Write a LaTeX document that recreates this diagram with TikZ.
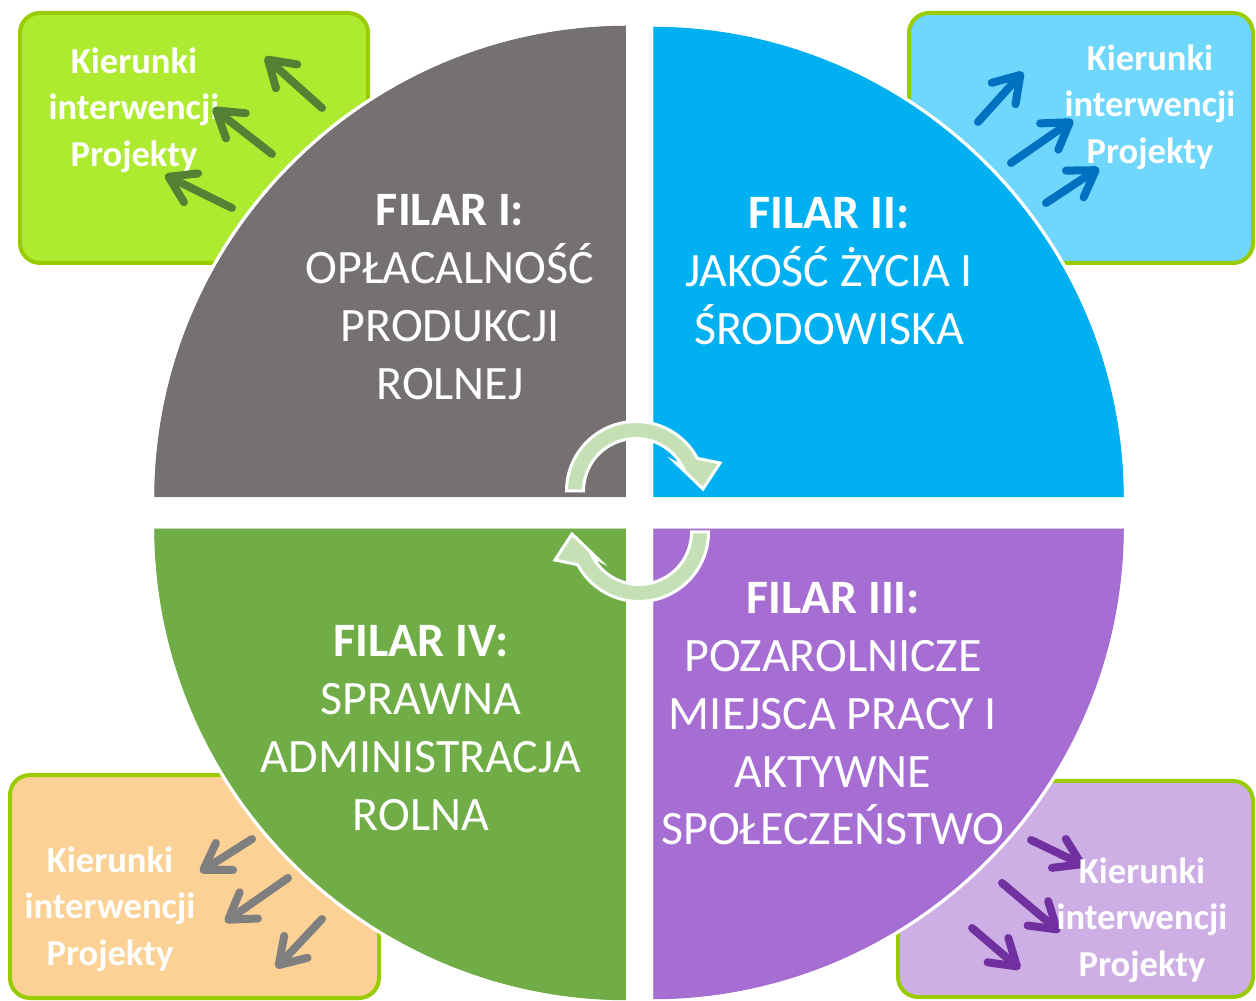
\documentclass[tikz,border=0pt]{standalone}
\usepackage{fontspec}
\setmainfont{Carlito}
\usetikzlibrary{arrows.meta}
\definecolor{qgray}{HTML}{767171}
\definecolor{qblue}{HTML}{00B0F0}
\definecolor{qgreen}{HTML}{70AD47}
\definecolor{qpurple}{HTML}{A66ED2}
\definecolor{cycfill}{HTML}{C5E0B4}
\definecolor{boxline}{HTML}{99CC00}
\definecolor{fillTL}{HTML}{AEEA30}
\definecolor{fillTR}{HTML}{6FD6FC}
\definecolor{fillBL}{HTML}{FCD195}
\definecolor{fillBR}{HTML}{CDAFE6}
\definecolor{arTL}{HTML}{548235}
\definecolor{arTR}{HTML}{0070C0}
\definecolor{arBL}{HTML}{7F7F7F}
\definecolor{arBR}{HTML}{7030A0}
\begin{document}
\begin{tikzpicture}[x=0.02cm,y=0.02cm,
  box/.style={draw=boxline, line width=0.08cm, rounded corners=0.4cm},
  quad/.style={draw=white, line width=0.06cm},
  ptr/.style={line width=0.16cm, line cap=round, line join=round, -{Straight Barb[length=0.5cm, width=0.64cm, round]}},
  boxtext/.style={text=white, font=\fontsize{20.8}{26.4}\selectfont\bfseries, align=center, inner sep=0pt},
  maintext/.style={text=white, font=\fontsize{27.3}{32.9}\selectfont, align=center, inner sep=0pt},
  cycarrow/.style={fill=cycfill, draw=white, line width=0.06cm, line join=miter}
]
\useasboundingbox (0,0) rectangle (1256,1000);

% side boxes
\draw[box, fill=fillTL] (20,737) rectangle (368,987);
\draw[box, fill=fillTR] (909,737) rectangle (1253,987);
\draw[box, fill=fillBL] (10,2) rectangle (379,225);
\draw[box, fill=fillBR] (898,3) rectangle (1253,219);

% box texts
\node[boxtext] (k1) at (134,890) {Kierunki\\interwencji\\Projekty};
% arrows TL (over text)
\draw[ptr, arTL] (322,892) -- (265,943);
\draw[ptr, arTL] (272,846) -- (213,892);
\draw[ptr, arTL] (232,792) -- (165,825);

% arrows TR
\draw[ptr, arTR] (978,878) -- (1023,928);
\draw[ptr, arTR] (1011,837) -- (1073,880);
\draw[ptr, arTR] (1046,797) -- (1099,832);
\node[boxtext] (k2) at (1150,893) {Kierunki\\interwencji\\Projekty};

% arrows BL
\draw[ptr, arBL] (252,161) -- (200,128);
\draw[ptr, arBL] (288,122) -- (225,78);
\draw[ptr, arBL] (322,81) -- (276,32);
\node[boxtext] (k3) at (110,91) {Kierunki\\interwencji\\Projekty};

% arrows BR
\draw[ptr, arBR] (1031,160) -- (1085,134);
\draw[ptr, arBR] (1002,117) -- (1060,68);
\draw[ptr, arBR] (972,72) -- (1020,31);
\node[boxtext] (k4) at (1142,80) {Kierunki\\interwencji\\Projekty};

% quadrants
\fill[quad, fill=qgray] (627.5,501) -- (152.5,501) arc[start angle=180, end angle=90, radius=475] -- cycle;
\fill[quad, fill=qblue] (651.5,501) -- (651.5,975) arc[start angle=90, end angle=0, radius=474] -- cycle;
\fill[quad, fill=qgreen] (627.5,473) -- (152.5,473) arc[start angle=180, end angle=270, radius=475] -- cycle;
\fill[quad, fill=qpurple] (651.5,473) -- (1125.5,473) arc[start angle=0, end angle=-90, radius=474] -- cycle;
\draw[quad] (627.5,501) -- (152.5,501) arc[start angle=180, end angle=90, radius=475] -- cycle;
\draw[quad] (651.5,501) -- (651.5,975) arc[start angle=90, end angle=0, radius=474] -- cycle;
\draw[quad] (627.5,473) -- (152.5,473) arc[start angle=180, end angle=270, radius=475] -- cycle;
\draw[quad] (651.5,473) -- (1125.5,473) arc[start angle=0, end angle=-90, radius=474] -- cycle;

% quadrant texts
\node[maintext] (f1) at (450,703) {\textbf{FILAR I:}\\OPŁACALNOŚĆ\\PRODUKCJI\\ROLNEJ};
\node[maintext] (f2) at (829,729) {\textbf{FILAR II:}\\JAKOŚĆ ŻYCIA I\\ŚRODOWISKA};
\node[maintext] (f3) at (833,286) {\textbf{FILAR III:}\\POZAROLNICZE\\MIEJSCA PRACY I\\AKTYWNE\\SPOŁECZEŃSTWO};
\node[maintext] (f4) at (421,272) {\textbf{FILAR IV:}\\SPRAWNA\\ADMINISTRACJA\\ROLNA};

% cycle arrows
\draw[cycarrow] (566.5,509) arc[start angle=180, end angle=28, radius=69.5]
  -- (720,537) -- (703,511) -- (676,537)
  -- ([shift={(636,509)}]28:52.5) arc[start angle=28, end angle=180, radius=52.5] -- cycle;
\begin{scope}[rotate around={180:(637.5,488.5)}]
\draw[cycarrow] (566.5,509) arc[start angle=180, end angle=28, radius=69.5]
  -- (720,537) -- (703,511) -- (676,537)
  -- ([shift={(636,509)}]28:52.5) arc[start angle=28, end angle=180, radius=52.5] -- cycle;
\end{scope}
\end{tikzpicture}
\end{document}
